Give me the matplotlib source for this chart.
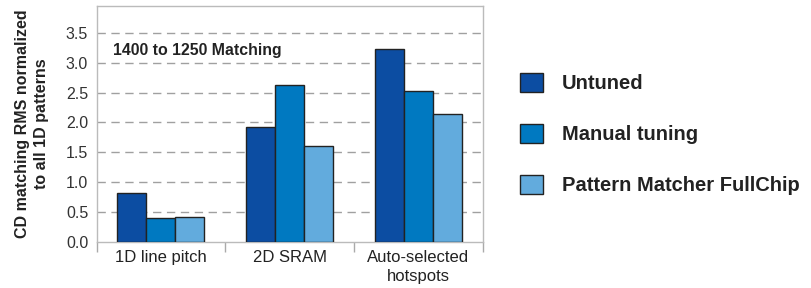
import matplotlib
matplotlib.use("Agg")
import matplotlib.pyplot as plt
import numpy as np
from matplotlib.patches import Patch

plt.rcParams['font.family'] = ['Liberation Sans', 'DejaVu Sans']

categories = ["1D line pitch", "2D SRAM", "Auto-selected\nhotspots"]
series_names = ["Untuned", "Manual tuning", "Pattern Matcher FullChip"]
untuned = [0.82, 1.92, 3.23]
manual = [0.40, 2.62, 2.53]
pm_fullchip = [0.42, 1.60, 2.15]
yticks = [0.0, 0.5, 1.0, 1.5, 2.0, 2.5, 3.0, 3.5]
colors = ["#0c4da2", "#0079c1", "#62abdd"]

fig = plt.figure(figsize=(8.11, 2.88), dpi=100)
ax = fig.add_axes([0.119, 0.160, 0.476, 0.819])

x = np.arange(len(categories))
w = 0.225
for i, vals in enumerate([untuned, manual, pm_fullchip]):
    ax.bar(x + (i - 1) * w, vals, w, color=colors[i], edgecolor="#222222",
           linewidth=1.0, zorder=3, label=series_names[i])

ax.set_xlim(-0.5, 2.5)
ax.set_ylim(0, 3.95)
ax.set_yticks(yticks)
ax.set_yticklabels(["%.1f" % v for v in yticks], fontsize=11.5, color="#333333")
ax.tick_params(axis="y", length=0, pad=6)
for v in yticks[1:]:
    ax.axhline(v, color="#a0a0a0", lw=1.0, ls=(0, (6, 4)), zorder=1)

# category labels centred, tick marks on the boundaries
ax.set_xticks([-0.5, 0.5, 1.5, 2.5])
ax.set_xticklabels([])
ax.tick_params(axis="x", length=7, width=1, color="#aaaaaa", direction="out")
ax.set_xticks(x, minor=True)
ax.set_xticklabels(categories, minor=True, fontsize=12, color="#222222",
                   linespacing=1.35)
ax.tick_params(axis="x", which="minor", length=0, pad=6)

for s in ax.spines.values():
    s.set_color("#bbbbbb")
    s.set_linewidth(1.0)

ax.set_ylabel("CD matching RMS normalized\nto all 1D patterns", fontsize=11.5,
              fontweight="bold", color="#222222", labelpad=12, linespacing=1.35)
ax.text(-0.373, 3.21, "1400 to 1250 Matching", fontsize=11.4, fontweight="bold",
        color="#222222", va="center", ha="left")

handles = [Patch(facecolor=c, edgecolor="#222222", linewidth=1.0) for c in colors]
fig.legend(handles, series_names, loc="center left", bbox_to_anchor=(0.619, 0.535),
           frameon=False, prop={"size": 14.5, "weight": "bold"}, labelcolor="#222222",
           handlelength=1.14, handleheight=1.14, labelspacing=1.5, handletextpad=0.95)

fig.savefig("out.png", dpi=100)
